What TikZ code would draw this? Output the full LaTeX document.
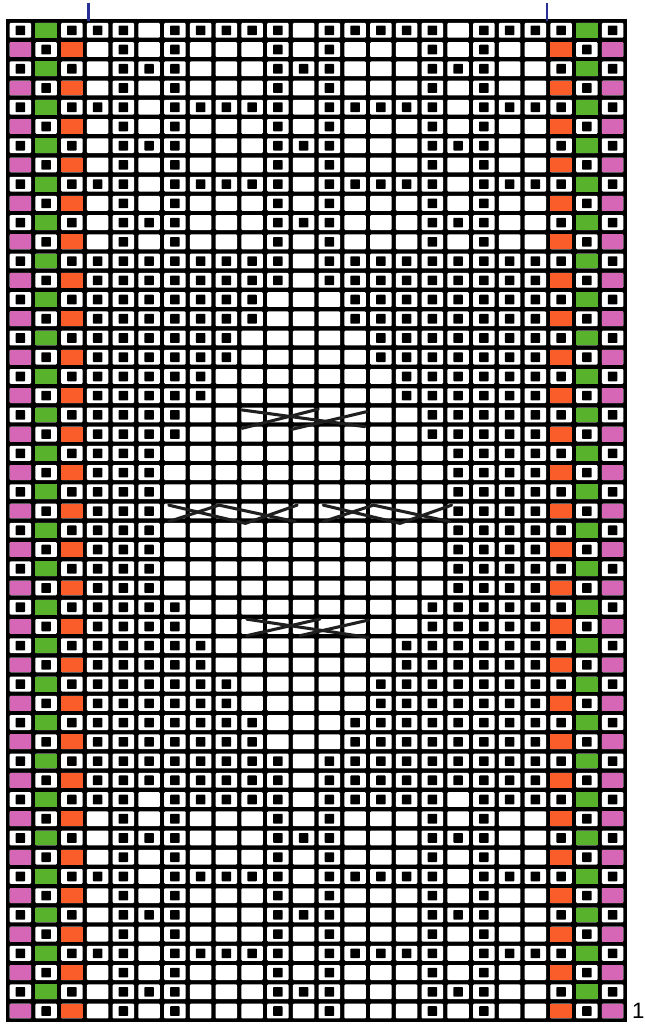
\documentclass[tikz,border=0pt]{standalone}
\usepackage{fontspec}
\setmainfont{Liberation Sans}
\definecolor{pinkcell}{RGB}{214,102,182}
\definecolor{greencell}{RGB}{88,178,44}
\definecolor{orangecell}{RGB}{250,92,42}
\definecolor{markblue}{RGB}{40,48,150}

\begin{document}
\begin{tikzpicture}[x=0.7725cm, y=-0.5769cm,
  cell/.style={fill=white, rounded corners=0.8pt},
  knot/.style={fill=black, rounded corners=0.6pt},
  cable/.style={line width=2.6pt, black!88, line cap=round}]
  \useasboundingbox (-0.2913,-1.0764) rectangle (24.7184,52.1737);
  % grid
  \fill[black] (-0.07,-0.09) rectangle (24.07,52.09);
  \foreach \c in {1,...,24}
    \foreach \t in {0,...,51}
      \fill[cell] (\c-0.914,\t+0.115) rectangle (\c-0.086,\t+0.885);
  % selvedge columns
  \foreach \t in {0,2,...,50} {
    \foreach \c in {1,3,22,24}
      \fill[knot] (\c-0.686,\t+0.25) rectangle (\c-0.314,\t+0.75);
    \foreach \c in {2,23}
      \fill[greencell] (\c-0.914,\t+0.115) rectangle (\c-0.086,\t+0.885);
  }
  \foreach \t in {1,3,...,51} {
    \foreach \c in {1,24}
      \fill[pinkcell] (\c-0.914,\t+0.115) rectangle (\c-0.086,\t+0.885);
    \foreach \c in {3,22}
      \fill[orangecell] (\c-0.914,\t+0.115) rectangle (\c-0.086,\t+0.885);
    \foreach \c in {2,23}
      \fill[knot] (\c-0.686,\t+0.25) rectangle (\c-0.314,\t+0.75);
  }
  % lattice rows, top and bottom
  \foreach \t in {0,4,8,40,44,48}
    \foreach \c in {4,5,7,8,9,10,11,13,14,15,16,17,19,20,21}
      \fill[knot] (\c-0.686,\t+0.25) rectangle (\c-0.314,\t+0.75);
  \foreach \t in {1,3,5,7,9,11,41,43,45,47,49,51}
    \foreach \c in {5,7,11,13,17,19}
      \fill[knot] (\c-0.686,\t+0.25) rectangle (\c-0.314,\t+0.75);
  \foreach \t in {2,6,10,42,46,50}
    \foreach \c in {5,6,7,11,12,13,17,18,19}
      \fill[knot] (\c-0.686,\t+0.25) rectangle (\c-0.314,\t+0.75);
  % diamond in the middle
  \foreach \t/\a/\b in {12/11/13,13/11/13,14/10/14,15/10/14,16/9/15,17/9/15,
      18/8/16,19/8/16,20/7/17,21/7/17,22/6/18,23/6/18,24/6/18,25/6/18,
      26/6/18,27/6/18,28/6/18,29/6/18,30/7/17,31/7/17,32/8/16,33/8/16,
      34/9/15,35/9/15,36/10/14,37/10/14,38/11/13,39/11/13} {
    \foreach \c in {4,...,\a}
      \fill[knot] (\c-0.686,\t+0.25) rectangle (\c-0.314,\t+0.75);
    \foreach \c in {\b,...,21}
      \fill[knot] (\c-0.686,\t+0.25) rectangle (\c-0.314,\t+0.75);
  }
  % cables
  \draw[cable] (9.1,20.24) -- (13.88,21.11);
  \draw[cable] (9.1,21.2) -- (12.07,20.2);
  \draw[cable] (11.04,21.25) -- (13.95,20.33);
  \draw[cable] (6.26,26.05) -- (8.21,25.19) -- (11.18,26.05);
  \draw[cable] (6.26,25.19) -- (9.24,26.14) -- (11.25,25.19);
  \draw[cable] (12.26,26.05) -- (14.21,25.19) -- (17.18,26.05);
  \draw[cable] (12.26,25.19) -- (15.24,26.14) -- (17.25,25.19);
  \draw[cable] (9.29,31.12) -- (14.01,32.07);
  \draw[cable] (9.29,31.98) -- (12.14,31.11);
  \draw[cable] (11.36,31.98) -- (14.01,31.17);
  % repeat marks and row number
  \draw[markblue, line width=2pt] (3.14,-0.92) -- (3.14,0);
  \draw[markblue, line width=2pt] (20.94,-0.92) -- (20.94,0);
  \node[font=\fontsize{19}{22}\selectfont, inner sep=0pt] (rowone) at (24.5,51.5) {1};
\end{tikzpicture}
\end{document}
